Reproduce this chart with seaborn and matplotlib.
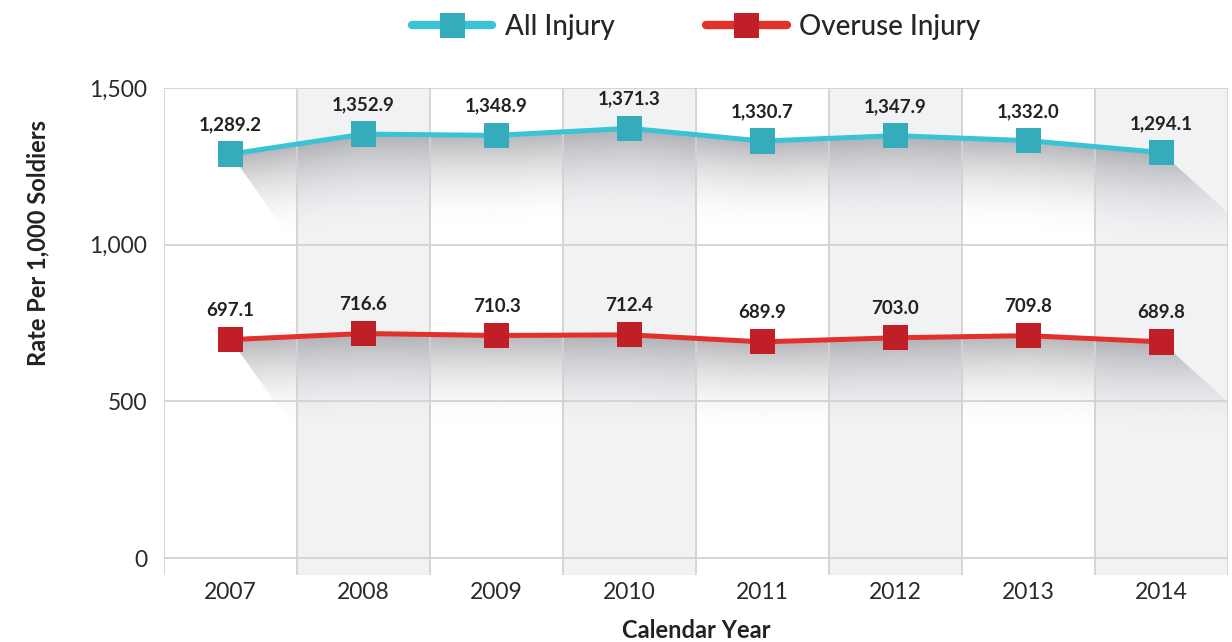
import numpy as np
import pandas as pd
import matplotlib.pyplot as plt
import seaborn as sns
from matplotlib.patches import Polygon
from matplotlib.lines import Line2D
from matplotlib.colors import to_rgb

years = [2007, 2008, 2009, 2010, 2011, 2012, 2013, 2014]
all_injury = [1289.2, 1352.9, 1348.9, 1371.3, 1330.7, 1347.9, 1332.0, 1294.1]
overuse_injury = [697.1, 716.6, 710.3, 712.4, 689.9, 703.0, 709.8, 689.8]
series_names = ["All Injury", "Overuse Injury"]
line_colors = ["#3ac2d5", "#e3302a"]
marker_colors = ["#34acbb", "#c01f27"]
y_ticks = [0, 500, 1000, 1500]
y_tick_labels = ["0", "500", "1,000", "1,500"]

df = pd.DataFrame({
    "Year": years * 2,
    "Rate": all_injury + overuse_injury,
    "Series": [series_names[0]] * 8 + [series_names[1]] * 8,
})

sns.set_theme(style="white")
plt.rcParams["font.family"] = ["Lato", "DejaVu Sans"]

fig = plt.figure(figsize=(12.32, 6.42), dpi=100)
ax = fig.add_axes([164 / 1232, 1 - 575 / 642, (1228 - 164) / 1232, (575 - 88) / 642])

x0, x1 = 2006.5, 2014.5
y0, y1 = -54, 1500

# alternating column shading
for i, yr in enumerate(years):
    if i % 2 == 1:
        ax.axvspan(yr - 0.5, yr + 0.5, color="#f1f2f4", zorder=0, lw=0)

# grid
for yv in y_ticks:
    ax.plot([x0, x1], [yv, yv], color="#d2d2d2", lw=1.3, zorder=1.5)
for xv in np.arange(x0, x1 + 0.01, 1.0):
    ax.plot([xv, xv], [y0, y1], color="#d2d2d2", lw=1.3, zorder=1.5)

# soft shadow under each line
xs = np.linspace(x0, x1, 500)
ys = np.linspace(y0, y1, 500)
X, Y = np.meshgrid(xs, ys)
shade = to_rgb("#85858c")
for vals in [all_injury, overuse_injury]:
    L = np.interp(xs, years, vals)[None, :]
    d = L - Y
    a = np.clip(1 - d / 300, 0, 1) ** 2 * 0.6
    a[d < 0] = 0
    rgba = np.zeros(X.shape + (4,))
    rgba[..., 0], rgba[..., 1], rgba[..., 2] = shade
    rgba[..., 3] = a
    poly = list(zip(years, vals)) + [
        (years[-1] + 0.5, vals[-1] - 192),
        (years[-1] + 0.5, vals[-1] - 800),
        (years[0] + 1.35, vals[0] - 800),
    ]
    patch = Polygon(poly, closed=True, transform=ax.transData,
                    facecolor="none", edgecolor="none")
    ax.add_patch(patch)
    im = ax.imshow(rgba, extent=[x0, x1, y0, y1], origin="lower",
                   aspect="auto", zorder=1.2, interpolation="bilinear")
    im.set_clip_path(patch)

sns.lineplot(data=df, x="Year", y="Rate", hue="Series", palette=line_colors,
             lw=3.6, ax=ax, legend=False, zorder=3)
sns.scatterplot(data=df, x="Year", y="Rate", hue="Series", palette=marker_colors,
                marker="s", s=330, linewidth=0, ax=ax, legend=False, zorder=4)

for vals in [all_injury, overuse_injury]:
    for yr, v in zip(years, vals):
        ax.annotate(f"{v:,.1f}", (yr, v), xytext=(0, 17), textcoords="offset points",
                    ha="center", va="baseline", fontsize=13.5, fontweight="bold",
                    color="#222222", zorder=5)

ax.set_xlim(x0, x1)
ax.set_ylim(y0, y1)
ax.set_xticks(years)
ax.set_xticklabels([str(y) for y in years], fontsize=16.5, fontweight="normal", color="#2a2a2a")
ax.set_yticks(y_ticks)
ax.set_yticklabels(y_tick_labels, fontsize=16.5, fontweight="normal", color="#2a2a2a")
ax.tick_params(axis="x", length=0, pad=5)
ax.tick_params(axis="y", length=0, pad=12)
for s in ax.spines.values():
    s.set_visible(False)
ax.set_xlabel("")
ax.set_ylabel("")
ax.grid(False)

fig.text(38 / 1232, 1 - 243 / 642, "Rate Per 1,000 Soldiers", rotation=90,
         ha="center", va="center", fontsize=17, fontweight="bold", color="#222222")
fig.text(696 / 1232, 1 - 630 / 642, "Calendar Year", ha="center", va="center",
         fontsize=17, fontweight="bold", color="#222222")

handles = [Line2D([], [], color=lc, lw=6, marker="s", markersize=18,
                  markerfacecolor=mc, markeredgewidth=0)
           for lc, mc in zip(line_colors, marker_colors)]
fig.legend(handles, series_names, loc="center", bbox_to_anchor=(696 / 1232, 1 - 27 / 642),
           ncol=2, frameon=False, handlelength=2.9, handletextpad=0.45,
           columnspacing=3.3, prop={"size": 20, "weight": "medium"})

fig.savefig("out.png", dpi=100)
